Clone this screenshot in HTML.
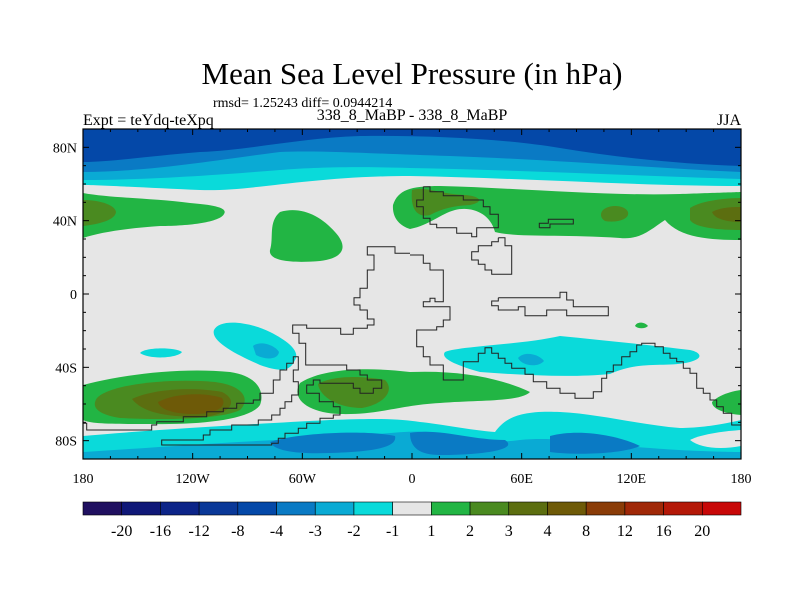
<!DOCTYPE html>
<html><head><meta charset="utf-8">
<style>
html,body{margin:0;padding:0;background:#fff;width:800px;height:600px;overflow:hidden}
svg{display:block}
text{font-family:"Liberation Serif",serif;fill:#000}
</style></head>
<body>
<svg id="chart" width="800" height="600" viewBox="0 0 800 600">
<text x="412" y="84" font-size="31" text-anchor="middle">Mean Sea Level Pressure (in hPa)</text>
<text x="213" y="107" font-size="14">rmsd= 1.25243 diff= 0.0944214</text>
<text x="83" y="125" font-size="16">Expt = teYdq-teXpq</text>
<text x="412" y="120" font-size="16" text-anchor="middle">338_8_MaBP - 338_8_MaBP</text>
<text x="741" y="125" font-size="16" text-anchor="end">JJA</text>
<defs><clipPath id="mapclip"><rect x="83" y="129" width="658" height="330"/></clipPath></defs>
<g id="map" clip-path="url(#mapclip)">
<rect x="83" y="129" width="658" height="330" fill="#e6e6e6"/>
<!-- northern blue bands -->
<path fill="#0adada" d="M83,129 L741,129 L741,186 C640,186 520,178 410,176 C310,176 250,192 200,190 C150,188 100,185 83,185 Z"/>
<path fill="#0aaad4" d="M83,129 L741,129 L741,179 C640,176 520,170 410,168 C340,166 310,168 280,170 C230,174 150,180 83,180 Z"/>
<path fill="#0a7ac4" d="M83,129 L741,129 L741,172 C650,168 560,160 450,156 C380,154 320,150 280,152 C230,158 150,172 83,172 Z"/>
<path fill="#0448a8" d="M83,129 L741,129 L741,166 C680,164 620,158 560,148 C500,138 420,135 360,136 C300,138 250,150 200,152 C150,156 110,162 83,162 Z"/>
<!-- northern greens -->
<path fill="#22b544" d="M83,193 C110,198 150,198 190,203 C215,205 228,208 224,214 C220,222 190,226 160,226 C130,228 100,232 83,238 Z"/>
<path fill="#4a8a20" d="M83,200 C100,200 115,205 116,212 C115,220 100,224 83,226 Z"/>
<path fill="#22b544" d="M280,212 C300,206 320,215 335,232 C348,246 345,258 320,261 C295,263 268,262 270,250 C274,238 268,222 280,212 Z"/>
<path fill="#22b544" d="M393,205 C398,190 410,186 440,186 C520,188 600,196 680,194 C710,193 741,192 741,192 L741,240 C710,240 680,238 665,220 C650,230 640,240 620,238 C560,234 520,238 495,232 C490,212 470,206 455,210 C440,214 430,225 410,229 C400,226 392,218 393,205 Z"/>
<path fill="#4a8a20" d="M412,190 C425,186 440,194 465,195 C480,196 485,202 470,205 C450,206 440,210 430,215 C418,218 410,210 412,190 Z"/>
<path fill="#4a8a20" d="M603,210 C610,204 625,205 628,212 C630,220 615,223 605,221 C600,218 600,213 603,210 Z"/>
<path fill="#4a8a20" d="M690,208 C705,198 741,198 741,198 L741,230 C720,230 695,228 690,220 Z"/>
<path fill="#5c6e10" d="M712,212 C722,206 741,207 741,207 L741,222 C730,222 715,220 712,212 Z"/>
<!-- tropical/southern -->
<path fill="#22b544" d="M635,326 C637,321 645,322 648,326 C645,329 638,329 635,326 Z"/>
<path fill="#0adada" d="M214,330 C220,318 250,322 270,332 C290,342 300,352 295,360 C290,372 280,372 260,365 C240,356 210,342 214,330 Z"/>
<path fill="#0aaad4" d="M253,346 C260,340 275,345 279,352 C278,360 265,360 256,355 Z"/>
<path fill="#0adada" d="M140,353 C145,347 175,347 182,352 C178,358 150,360 140,353 Z"/>
<path fill="#0adada" d="M445,352 C460,346 520,345 560,336 C600,340 650,345 690,350 C700,352 705,358 690,362 C665,368 640,360 610,374 C570,378 520,375 480,372 C455,365 440,358 445,352 Z"/>
<path fill="#0aaad4" d="M518,358 C525,350 540,355 544,361 C538,368 522,366 518,358 Z"/>
<path fill="#22b544" d="M83,385 C120,375 180,367 230,372 C258,376 265,392 260,405 C250,420 200,425 150,424 C115,424 90,424 83,420 Z"/>
<path fill="#4a8a20" d="M97,398 C110,384 170,378 215,382 C245,386 250,400 240,410 C220,420 160,420 120,418 C100,415 90,408 97,398 Z"/>
<path fill="#5c6e10" d="M132,399 C150,390 190,386 222,392 C238,400 232,412 210,416 C180,418 145,416 132,399 Z"/>
<path fill="#6e5a08" d="M158,402 C175,393 205,392 222,398 C228,407 215,414 195,414 C175,414 160,410 158,402 Z"/>
<path fill="#22b544" d="M300,383 C320,370 360,366 410,372 C460,370 500,378 530,392 C520,402 480,400 440,403 C400,405 380,415 340,414 C310,413 290,400 300,383 Z"/>
<path fill="#4a8a20" d="M318,384 C330,376 360,375 385,380 C395,390 385,404 362,408 C340,408 320,398 318,384 Z"/>
<path fill="#22b544" d="M712,402 C722,392 741,390 741,390 L741,415 C728,414 712,410 712,402 Z"/>
<!-- southern blue band -->
<path fill="#0adada" d="M83,436 C150,430 250,424 330,420 C380,418 400,419 420,422 C440,424 470,430 495,432 C505,418 520,410 560,412 C600,414 640,425 680,428 C710,428 741,420 741,420 L741,459 L83,459 Z"/>
<path fill="#e6e6e6" d="M690,440 C705,432 741,430 741,430 L741,446 C720,450 700,448 690,440 Z"/>
<path fill="#0aaad4" d="M83,452 C150,448 250,440 330,438 C370,436 400,430 430,432 C470,436 480,445 520,440 C560,436 600,445 650,448 C700,452 741,452 741,452 L741,459 L83,459 Z"/>
<path fill="#0a7ac4" d="M270,442 C300,432 370,430 395,436 C398,448 370,452 330,453 C300,454 275,452 270,442 Z"/>
<path fill="#0a7ac4" d="M410,433 C440,428 470,440 505,440 C520,450 480,455 440,455 C420,455 410,448 410,433 Z"/>
<path fill="#0a7ac4" d="M550,436 C580,428 620,436 640,446 C620,455 570,455 550,452 Z"/>
<g id="coast" fill="none" stroke="#222" stroke-width="1"></g>
</g>
<rect x="83" y="129" width="658" height="330" fill="none" stroke="#000" stroke-width="1.2"/>
<g id="ticks" stroke="#000" stroke-width="1"></g>
<g id="labels"></g>
<g id="colorbar"></g>
</svg>
<script>
const levels=["-20","-16","-12","-8","-4","-3","-2","-1","1","2","3","4","8","12","16","20"];
const colors=["#201060","#101878","#0c2488","#0a3898","#0448a8","#0a7ac4","#0aaad4","#0adada","#e6e6e6","#22b544","#4a8a20","#5c6e10","#6e5a08","#8a3c08","#a02808","#b41808","#c80808"];
const latLabels=["80N","40N","0","40S","80S"];
const latValues=[80,40,0,-40,-80];
const lonLabels=["180","120W","60W","0","60E","120E","180"];
const lonValues=[-180,-120,-60,0,60,120,180];
const NS="http://www.w3.org/2000/svg";
const X0=83,X1=741,Y0=129,Y1=459;
const xs=lon=>X0+(lon+180)/360*(X1-X0);
const ys=lat=>Y0+(90-lat)/180*(Y1-Y0);
function mk(tag,attrs,parent){const e=document.createElementNS(NS,tag);for(const k in attrs)e.setAttribute(k,attrs[k]);parent.appendChild(e);return e;}
// ticks
const tk=document.getElementById('ticks');
for(let lon=-180;lon<=180;lon+=15){const major=lon%60===0;const L=major?6:3;
 let t=mk('line',{x1:xs(lon),x2:xs(lon),y1:Y0,y2:Y0+L},tk);
 t=mk('line',{x1:xs(lon),x2:xs(lon),y1:Y1,y2:Y1-L},tk);}
for(let lat=-90;lat<=90;lat+=10){const major=lat%40===0;const L=major?6:3;
 let t=mk('line',{x1:X0,x2:X0+L,y1:ys(lat),y2:ys(lat)},tk);
 t=mk('line',{x1:X1,x2:X1-L,y1:ys(lat),y2:ys(lat)},tk);}
const lb=document.getElementById('labels');
latLabels.forEach((s,i)=>{const t=mk('text',{x:77,y:ys(latValues[i])+5,'font-size':14,'text-anchor':'end'},lb);t.textContent=s;
 });
lonLabels.forEach((s,i)=>{const t=mk('text',{x:xs(lonValues[i]),y:483,'font-size':14,'text-anchor':'middle'},lb);t.textContent=s;
 });
// colorbar
const cb=document.getElementById('colorbar');const bw=(X1-X0)/colors.length;
colors.forEach((c,i)=>{const r=mk('rect',{x:X0+i*bw,y:502,width:bw,height:13,fill:c,stroke:'#000','stroke-width':0.6},cb);
 });
levels.forEach((s,i)=>{const t=mk('text',{x:X0+(i+1)*bw,y:536,'font-size':16,'text-anchor':'middle'},cb);t.textContent=s;
 });
// coastlines (zoom-space coordinates)
const amer=[[990,385],[945,385],[945,365],[862,365],[862,390],[882,390],[882,435],[862,435],[862,490],[840,490],[840,518],[822,518],[822,540],[840,540],[840,555],[862,555],[862,582],[882,582],[882,600],[862,600],[862,610],[820,610],[820,628],[782,628],[782,610],[680,610],[680,600],[638,600],[638,625],[657,625],[657,655],[677,655],[677,720],[800,720],[800,735],[840,735],[840,750],[862,750],[862,765],[905,765],[905,790],[880,790],[880,805],[840,805],[840,790],[820,790],[820,775],[720,775],[720,765],[700,765],[700,780],[680,780],[680,805],[718,805],[718,830],[760,830],[760,845],[780,845],[780,870],[760,870],[760,880],[720,880],[720,895],[680,895],[680,910],[655,910],[655,925],[615,925],[615,940],[595,940],[595,955],[575,955],[575,960],[245,960],[245,945],[370,945],[370,930],[390,930],[390,915],[455,915],[455,900],[535,900],[535,885],[575,885],[575,870],[600,870],[600,850],[615,850],[615,830],[635,830],[635,810],[655,810],[655,770],[640,770],[640,735],[655,735],[655,695],[640,695],[640,715],[620,715],[620,735],[600,735],[600,765],[580,765],[580,805],[540,805],[540,825],[520,825],[520,835],[470,835],[470,850],[430,850],[430,860],[380,860],[380,875],[310,875],[310,890],[230,890],[230,900],[215,900],[215,915],[20,915],[20,895],[10,895]];
const afr=[[0,390],[40,390],[40,415],[60,415],[60,435],[100,435],[100,530],[75,530],[75,520],[60,520],[60,530],[40,530],[40,545],[120,545],[120,585],[100,585],[100,605],[80,605],[80,615],[20,615],[20,665],[40,665],[40,695],[60,695],[60,720],[100,720],[100,765],[160,765],[160,710],[205,710],[205,685],[225,685],[225,668],[245,668],[245,685],[265,685],[265,700],[285,700],[285,715],[305,715],[305,730],[345,730],[345,748],[370,748],[370,770],[410,770],[410,790],[450,790],[450,805],[495,805],[495,820],[550,820],[550,800],[575,800],[575,760],[590,760],[590,740],[610,740],[610,720],[635,720],[635,695],[660,695],[660,680],[680,680],[680,660],[695,660],[695,655],[735,655],[735,665],[760,665],[760,685],[780,685],[780,700],[800,700],[800,710],[820,710],[820,730],[840,730],[840,745],[860,745],[860,790],[880,790],[880,805],[900,805],[900,825],[920,825],[920,845],[940,845],[940,865],[965,865],[965,900],[1000,900]];
const eur=[[40,185],[60,185],[60,200],[100,200],[100,212],[160,212],[160,225],[220,225],[220,245],[240,245],[240,268],[265,268],[265,308],[200,308],[200,335],[185,335],[185,325],[140,325],[140,308],[80,308],[80,298],[60,298],[60,280],[40,280],[40,245],[20,245],[20,225],[40,225],[40,185]];
const asia=[[265,338],[285,338],[285,362],[305,362],[305,448],[245,448],[245,435],[225,435],[225,418],[205,418],[205,405],[185,405],[185,380],[205,380],[205,362],[245,362],[245,350],[265,350],[265,338]];
const aus=[[265,518],[450,518],[450,502],[470,502],[470,525],[490,525],[490,545],[595,545],[595,572],[470,572],[470,555],[410,555],[410,572],[345,572],[345,545],[325,545],[325,555],[265,555],[265,542],[245,542],[245,528],[265,528],[265,518]];
const jap=[[388,308],[388,295],[415,295],[415,283],[490,283],[490,297],[420,297],[420,308],[388,308]];
const cg=document.getElementById('coast');
function poly(pts,ox,oy,name){const p=mk('polyline',{points:pts.map(q=>(ox+q[0]/3).toFixed(1)+','+(oy+q[1]/3).toFixed(1)).join(' ')},cg);
 }
poly(amer,80,125,'coast-americas');
poly(afr,410,125,'coast-africa-antarctica');
poly(eur,410,125,'coast-europe');
poly(asia,410,125,'coast-asia');
poly(aus,410,125,'coast-australia');
poly(jap,410,125,'coast-japan');
</script>
</body></html>
